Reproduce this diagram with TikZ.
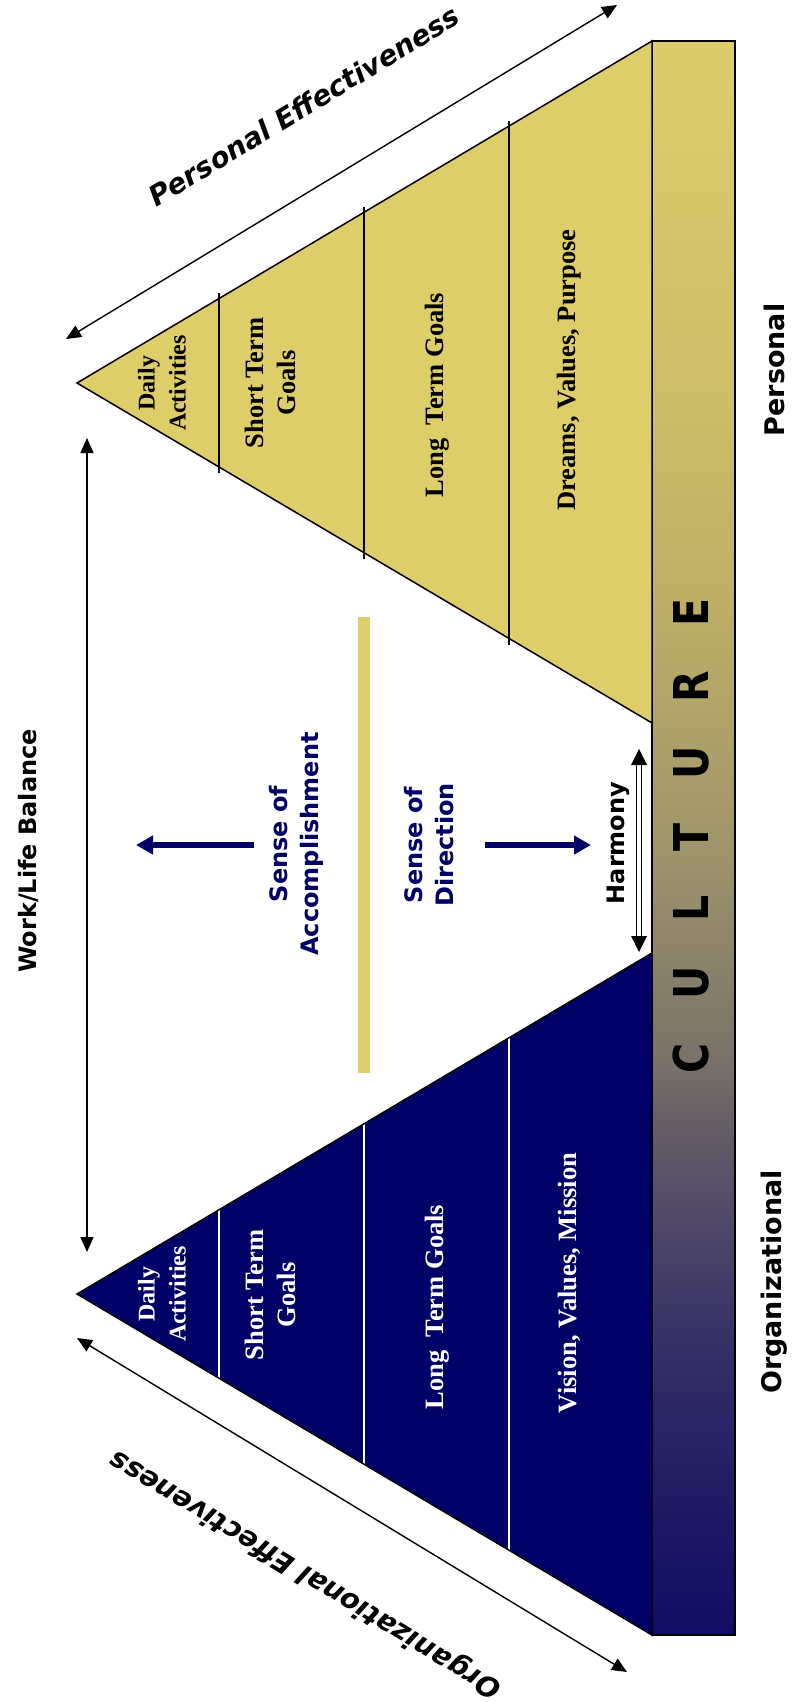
\documentclass[tikz,border=0pt]{standalone}
\usepackage{fontspec}
\usepackage{graphicx}
\usetikzlibrary{arrows.meta}
\newfontfamily\vfont{DejaVu Sans}
\newfontfamily\tfont{Liberation Serif}
\definecolor{pyel}{RGB}{221,206,106}
\definecolor{pnavy}{RGB}{0,0,102}
\newcommand\cgap{\hspace{44pt}}
\pgfdeclareverticalshading{culture}{100bp}{%
rgb(0bp)=(0.063,0.047,0.392);
rgb(25bp)=(0.063,0.047,0.392);
rgb(30.4bp)=(0.137,0.125,0.392);
rgb(34.55bp)=(0.216,0.196,0.4);
rgb(37.7bp)=(0.306,0.275,0.408);
rgb(40.85bp)=(0.392,0.361,0.4);
rgb(43.1bp)=(0.478,0.447,0.408);
rgb(49.9bp)=(0.627,0.588,0.424);
rgb(57.05bp)=(0.737,0.682,0.4);
rgb(63.75bp)=(0.804,0.745,0.408);
rgb(75bp)=(0.863,0.804,0.424);
rgb(100bp)=(0.863,0.804,0.424)}
\begin{document}
\begin{tikzpicture}[x=1pt,y=-1pt,
  vlbl/.style={font=\vfont\bfseries\fontsize{24}{31}\selectfont, align=center, inner sep=0pt, rotate=90},
  biglbl/.style={font=\vfont\bfseries\fontsize{27}{32}\selectfont, inner sep=0pt},
  efflbl/.style={font=\vfont\bfseries\itshape\fontsize{28}{32}\selectfont, inner sep=0pt},
  tlbl/.style={font=\tfont\bfseries\fontsize{26.5}{32}\selectfont, align=center, inner sep=0pt, rotate=90},
  slbl/.style={font=\tfont\bfseries\fontsize{24}{31}\selectfont, align=center, inner sep=0pt, rotate=90},
  thinarr/.style={line width=1.4pt, {Triangle[length=15pt,width=13pt]}-{Triangle[length=15pt,width=13pt]}},
  navarr/.style={line width=5.5pt, pnavy, -{Triangle[length=17pt,width=18pt]}},
  tri/.style={draw=black, line width=1.5pt, line join=miter},
  ydiv/.style={draw=black, line width=1.3pt},
  bdiv/.style={draw=white, line width=1.3pt},
]
\useasboundingbox (0,0) rectangle (793,1702);

% culture bar
\shade[shading=culture] (652,41) rectangle (735,1635);
\draw[line width=2pt] (652,41) rectangle (735,1635);

% yellow pyramid
\coordinate (ya) at (77,383);
\coordinate (yt) at (652,41);
\coordinate (yb) at (652,723);
\fill[pyel] (ya) -- (yt) -- (yb) -- cycle;
\draw[ydiv] (219,293) -- (219,473);
\draw[ydiv] (364,207) -- (364,559);
\draw[ydiv] (509,121) -- (509,645);
\draw[tri] (ya) -- (yt) -- (yb) -- cycle;

% navy pyramid
\coordinate (ba) at (77,1294);
\coordinate (bt) at (652,953);
\coordinate (bb) at (652,1635);
\fill[pnavy] (ba) -- (bt) -- (bb) -- cycle;
\draw[bdiv] (219,1210) -- (219,1378);
\draw[bdiv] (364,1124) -- (364,1464);
\draw[bdiv] (509,1038) -- (509,1550);
\draw[tri] (ba) -- (bt) -- (bb) -- cycle;

% central yellow bar
\fill[pyel] (358,617) rectangle (370,1073);

% arrows
\coordinate (pe1) at (66,339);
\coordinate (pe2) at (617,5);
\draw[thinarr] (pe1) -- (pe2);
\coordinate (oe1) at (77,1338);
\coordinate (oe2) at (627,1672);
\draw[thinarr] (oe1) -- (oe2);
\coordinate (wl1) at (87,438);
\coordinate (wl2) at (87,1252);
\draw[thinarr] (wl1) -- (wl2);

\coordinate (sa1) at (254,845);
\coordinate (sa2) at (136,845);
\draw[navarr] (sa1) -- (sa2);
\coordinate (sd1) at (485,845);
\coordinate (sd2) at (591,845);
\draw[navarr] (sd1) -- (sd2);

% harmony block arrow
\coordinate (h1) at (639,749);
\coordinate (h2) at (639,952);
\draw[line width=0.9pt, fill=white] (636.8,764) rectangle (641.2,937);
\fill[black] (h1) -- (647,765) -- (631,765) -- cycle;
\fill[black] (h2) -- (647,936) -- (631,936) -- cycle;

% labels
\node[efflbl, rotate=31.3] (pel) at (304,106) {Personal Effectiveness};
\node[efflbl, rotate=148.7] (oel) at (306,1574) {Organizational Effectiveness};
\node[biglbl, rotate=90] (pers) at (774,370) {Personal};
\node[biglbl, rotate=90] (org) at (774,1282) {Organizational};
\node[vlbl] (wlb) at (28,851) {Work/Life Balance};
\node[vlbl, text=pnavy] (soa) at (296,844) {Sense of\\Accomplishment};
\node[vlbl, text=pnavy] (sod) at (429,845) {Sense of\\Direction};
\node[vlbl] (harm) at (618,843) {Harmony};
\node[rotate=90, inner sep=0pt, font=\vfont\bfseries\fontsize{41}{41}\selectfont] (cult) at (691,836)
  {\scalebox{1}[1.17]{C\cgap U\cgap L\cgap T\cgap U\cgap R\cgap E}};

% pyramid texts
\node[slbl] (yda) at (162,383) {Daily\\Activities};
\node[tlbl] (yst) at (270,383) {Short Term\\Goals};
\node[tlbl] (ylt) at (437.6,395) {Long\ \ Term Goals};
\node[tlbl] (ydv) at (569.5,370) {Dreams, Values, Purpose};
\node[slbl, text=white] (bda) at (162,1294) {Daily\\Activities};
\node[tlbl, text=white] (bst) at (270,1295) {Short Term\\Goals};
\node[tlbl, text=white] (blt) at (437.6,1307) {Long\ \ Term Goals};
\node[tlbl, text=white] (bvv) at (569.5,1283) {Vision, Values, Mission};
\end{tikzpicture}
\end{document}
